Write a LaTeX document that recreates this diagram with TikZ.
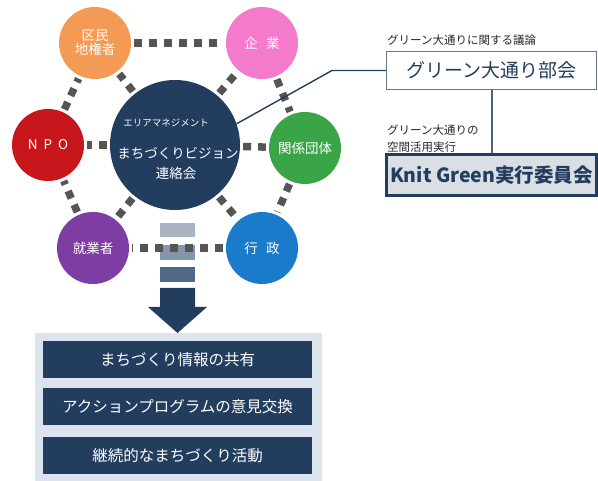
\documentclass[tikz,border=0pt]{standalone}
\usepackage{fontspec}
\setmainfont{Noto Sans CJK JP}
\definecolor{navy}{HTML}{233D5F}
\definecolor{dotgray}{HTML}{555555}
\definecolor{corange}{HTML}{F39A55}
\definecolor{cpink}{HTML}{F47ACB}
\definecolor{cred}{HTML}{C8161D}
\definecolor{cgreen}{HTML}{3AA546}
\definecolor{cpurple}{HTML}{7E3DA2}
\definecolor{cblue}{HTML}{1B7BCB}
\definecolor{panel}{HTML}{DCE4EE}
\definecolor{bar1}{HTML}{A9B4C2}
\definecolor{bar2}{HTML}{8595AB}
\definecolor{bar3}{HTML}{526A8A}
\definecolor{knitfill}{HTML}{DADFE6}
\definecolor{boxgray}{HTML}{6B7785}
\tikzset{
  member/.style={circle, minimum size=72pt, inner sep=0pt, text=white, font=\fontsize{13.5}{16}\selectfont, align=center},
  dots/.style={draw=dotgray, line width=7.5pt, dash pattern=on 8pt off 7pt, shorten <=3pt, shorten >=3pt},
  actbox/.style={fill=navy, text=white, minimum width=269pt, minimum height=37pt, inner sep=0pt, font=\fontsize{15.5}{18}\selectfont},
  smalllabel/.style={anchor=west, inner sep=0pt, font=\fontsize{11.5}{17}\selectfont, text=black!85, align=left},
  link/.style={draw=navy, line width=1.4pt}
}
\begin{document}
\begin{tikzpicture}[x=1pt,y=-1pt]
\useasboundingbox (0,0) rectangle (598,481);
% bars and arrow
\fill[bar1] (160,223) rectangle (195,237);
\fill[bar2] (160,245) rectangle (195,260);
\fill[bar3] (160,267) rectangle (195,282);
\fill[navy] (160,288) -- (195,288) -- (195,307) -- (207,307) -- (177.5,333) -- (148,307) -- (160,307) -- cycle;
% panel
\fill[panel] (35,333) rectangle (322,481);
\node[actbox] (a1) at (177.5,360) {まちづくり情報の共有};
\node[actbox] (a2) at (177.5,406.5) {アクションプログラムの意見交換};
\node[actbox] (a3) at (177.5,456) {継続的なまちづくり活動};
% circles
\node[member, fill=navy, minimum size=130pt] (c) at (175,145) {};
\node[font=\fontsize{9.5}{11}\selectfont, text=white, inner sep=0pt] (c1) at (166,123) {エリアマネジメント};
\node[font=\fontsize{13.5}{16}\selectfont, text=white, inner sep=0pt] (c2) at (178,153) {まちづくりビジョン};
\node[font=\fontsize{13.5}{16}\selectfont, text=white, inner sep=0pt] (c3) at (176,173) {連絡会};
\node[member, fill=corange] (kumin) at (95,43) {区民\\[-2pt]地権者};
\node[member, fill=cpink] (kigyo) at (262,43) {企\hspace{0.6em}業};
\node[member, fill=cred] (npo) at (48,145) {N\hspace{0.45em}P\hspace{0.45em}O};
\node[member, fill=cgreen] (kankei) at (305,148) {関係団体};
\node[member, fill=cpurple] (shugyo) at (93,248) {就業者};
\node[member, fill=cblue] (gyosei) at (262,248) {行\hspace{0.6em}政};
% dotted connections
\draw[dots] (kumin) -- (kigyo);
\draw[dots] (kigyo) -- (kankei);
\draw[dots] (kankei) -- (gyosei);
\draw[dots] (gyosei) -- (shugyo);
\draw[dots] (shugyo) -- (npo);
\draw[dots] (npo) -- (kumin);
\draw[dots] (c) -- (kumin);
\draw[dots] (c) -- (kigyo);
\draw[dots] (c) -- (npo);
\draw[dots] (c) -- (kankei);
\draw[dots] (c) -- (shugyo);
\draw[dots] (c) -- (gyosei);
% right side
\node[draw=boxgray, line width=1.3pt, fill=white, minimum width=210pt, minimum height=38pt, inner sep=0pt, font=\fontsize{19}{22}\selectfont, text=navy] (bukai) at (491.5,70.5) {グリーン大通り部会};
\node[draw=navy, line width=3pt, fill=knitfill, minimum width=210pt, minimum height=41pt, inner sep=0pt, font=\fontsize{19.5}{22}\selectfont\bfseries, text=navy] (knit) at (491.5,175.5) {Knit Green実行委員会};
\node[smalllabel] (l1) at (387,40) {グリーン大通りに関する議論};
\node[smalllabel] (l2) at (387,138.5) {グリーン大通りの\\空間活用実行};
\coordinate (bend) at (332,70.5);
\draw[link] (c.19) -- (bend) -- (bukai.west);
\draw[draw=navy!80, line width=1.3pt] (bukai.south -| 492,0) -- (knit.north -| 492,0);
\end{tikzpicture}
\end{document}
